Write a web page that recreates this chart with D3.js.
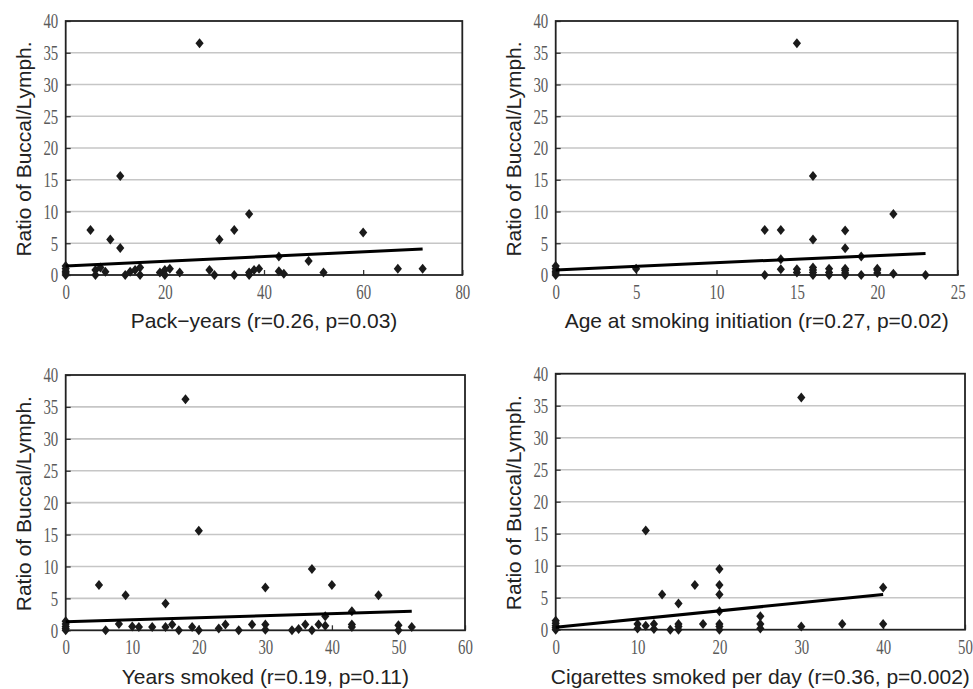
<!DOCTYPE html>
<html>
<head>
<meta charset="utf-8">
<script src="https://cdn.jsdelivr.net/npm/d3@7"></script>
<style>
  html, body { margin: 0; padding: 0; background: #fff; }
  svg { display: block; }
</style>
</head>
<body>
<script>
// ---------------- DATA ----------------
const yTicks = [0, 5, 10, 15, 20, 25, 30, 35, 40];
const yLabel = "Ratio of Buccal/Lymph.";

const titles = [
  "Pack\u2212years (r=0.26, p=0.03)",
  "Age at smoking initiation (r=0.27, p=0.02)",
  "Years smoked (r=0.19, p=0.11)",
  "Cigarettes smoked per day (r=0.36, p=0.002)"
];

const packTicks  = [0, 20, 40, 60, 80];
const ageTicks   = [0, 5, 10, 15, 20, 25];
const yearsTicks = [0, 10, 20, 30, 40, 50, 60];
const cigTicks   = [0, 10, 20, 30, 40, 50];

const packX = [0,0,0,0,0, 5, 6,6,7,8, 9, 11,11, 12,13,14,15,15, 19,20,20,21, 23, 27, 29,30, 31, 34,34, 37,37,37,38,39, 43,43,44, 49, 52, 60, 67, 72];
const packY = [0,0.3,0.6,1.0,1.4, 7.1, 0,0.8,1.2,0.5, 5.6, 15.6,4.25, 0,0.5,0.8,1.2,0, 0.4,0.8,0,1.0, 0.4, 36.5, 0.8,0, 5.6, 7.1,0, 9.6,0,0.4,0.8,1.0, 2.9,0.6,0.2, 2.2, 0.4, 6.7, 1.0, 1.0];

const ageX = [0,0,0,0,0, 5, 13,13, 14,14,14, 15,15,15, 16,16,16,16,16,16, 17,17,17, 18,18,18,18,18,18, 19,19, 20,20,20, 21,21, 23];
const ageY = [0,0.3,0.6,1.0,1.4, 1.0, 7.1,0, 7.1,2.5,0.9, 36.5,0.9,0.4, 15.6,5.6,0,0.4,0.8,1.2, 0,0.4,1.0, 7.0,4.2,0,0.3,0.7,1.0, 2.9,0, 0.3,0.8,1.0, 9.6,0.2, 0];

const yearsX = [0,0,0,0,0, 5, 6, 8, 9, 10, 11, 13, 15,15, 16, 17, 18, 19, 20,20, 23, 24, 26, 28, 30,30,30, 34, 35, 36, 37,37, 38, 39,39, 40, 43,43,43, 47, 50,50, 52];
const yearsY = [0,0.3,0.6,1.0,1.4, 7.1, 0, 1.0, 5.5, 0.6, 0.5, 0.5, 4.2,0.5, 0.9, 0, 36.2, 0.5, 15.6,0, 0.3, 0.9, 0, 0.9, 6.7,0.9,0.1, 0, 0.2, 0.9, 9.6,0, 0.9, 2.2,0.7, 7.1, 3.0,0.9,0.5, 5.5, 0.8,0, 0.5];

const cigX = [0,0,0,0,0, 10,10, 11, 11, 12,12, 13, 14, 15,15,15,15, 17, 18, 20,20,20,20,20,20,20, 25,25,25, 30,30, 35, 40,40];
const cigY = [0,0.3,0.6,1.0,1.4, 0.9,0.2, 15.5, 0.6, 0.9,0.1, 5.5, 0, 4.1,0.9,0.5,0, 7.0, 0.9, 9.5,7.0,5.5,2.9,0.9,0.5,0, 2.1,0.9,0.2, 36.3,0.5, 0.9, 6.6,0.9];

// regression lines (start / end)
const packTrendX  = [0, 72],  packTrendY  = [1.4, 4.1];
const ageTrendX   = [0, 23],  ageTrendY   = [0.8, 3.4];
const yearsTrendX = [0, 52],  yearsTrendY = [1.35, 3.0];
const cigTrendX   = [0, 40],  cigTrendY   = [0.4, 5.5];

// ---------------- LAYOUT ----------------
const W = 973, H = 689;
const panels = [
  { xs: packX,  ys: packY,  ticks: packTicks,  title: titles[0], tx: packTrendX,  ty: packTrendY,  l: 65.7,  r: 462.3, t: 21,    b: 275,   ylx: 23,  titleY: 328 },
  { xs: ageX,   ys: ageY,   ticks: ageTicks,   title: titles[1], tx: ageTrendX,   ty: ageTrendY,   l: 555.7, r: 957.7, t: 21,    b: 275,   ylx: 513, titleY: 328 },
  { xs: yearsX, ys: yearsY, ticks: yearsTicks, title: titles[2], tx: yearsTrendX, ty: yearsTrendY, l: 65.7,  r: 465,   t: 375,   b: 630.3, ylx: 23,  titleY: 684 },
  { xs: cigX,   ys: cigY,   ticks: cigTicks,   title: titles[3], tx: cigTrendX,   ty: cigTrendY,   l: 555.7, r: 965,   t: 373.7, b: 629.7, ylx: 513, titleY: 684 }
];

const svg = d3.select("body").append("svg")
  .attr("width", W).attr("height", H)
  .style("background", "#fff");

// diamond marker
const diamond = {
  draw(ctx, size) {
    const hw = 4.1, hh = 5.0;
    ctx.moveTo(0, -hh); ctx.lineTo(hw, 0); ctx.lineTo(0, hh); ctx.lineTo(-hw, 0); ctx.closePath();
  }
};
const sym = d3.symbol().type(diamond).size(1)();

const SX = 0.78, SY = 1.12; // squeeze of tick numerals
const tickFont = "'Liberation Serif', 'DejaVu Serif', serif";
const sansFont = "'Liberation Sans', Arial, 'DejaVu Sans', sans-serif";

panels.forEach(p => {
  const xMax = p.ticks[p.ticks.length - 1];
  const x = d3.scaleLinear().domain([0, xMax]).range([p.l, p.r]);
  const y = d3.scaleLinear().domain([0, 40]).range([p.b, p.t]);
  const g = svg.append("g");

  // gridlines
  g.selectAll("line.grid").data(yTicks.filter(v => v > 0 && v < 40)).join("line")
    .attr("class", "grid")
    .attr("x1", p.l).attr("x2", p.r)
    .attr("y1", d => y(d)).attr("y2", d => y(d))
    .attr("stroke", "#c6c6c6").attr("stroke-width", 1.6);

  // y axis
  const ya = g.append("g").attr("transform", `translate(${p.l},0)`)
    .call(d3.axisLeft(y).tickValues(yTicks).tickSize(-5).tickPadding(7.5).tickFormat(d3.format("d")));
  ya.select(".domain").remove();
  ya.selectAll(".tick line").attr("stroke", "#333").attr("stroke-width", 1.3);
  ya.selectAll(".tick text")
    .attr("x", -7.5 / SX)
    .attr("transform", `scale(${SX},${SY})`)
    .attr("fill", "#5a5a5a").style("font-family", tickFont).style("font-size", "19px");

  // x axis
  const xa = g.append("g").attr("transform", `translate(0,${p.b})`)
    .call(d3.axisBottom(x).tickValues(p.ticks).tickSize(-5).tickPadding(10).tickFormat(d3.format("d")));
  xa.select(".domain").remove();
  xa.selectAll(".tick line").attr("stroke", "#333").attr("stroke-width", 1.3);
  xa.selectAll(".tick text")
    .attr("y", 9 / SY)
    .attr("transform", `scale(${SX},${SY})`)
    .attr("fill", "#5a5a5a").style("font-family", tickFont).style("font-size", "19px");

  // frame
  g.append("rect")
    .attr("x", p.l).attr("y", p.t)
    .attr("width", p.r - p.l).attr("height", p.b - p.t)
    .attr("fill", "none").attr("stroke", "#222").attr("stroke-width", 1.8);

  // points
  const pts = p.xs.map((v, i) => [v, p.ys[i]]);
  g.selectAll("path.pt").data(pts).join("path")
    .attr("class", "pt")
    .attr("d", sym)
    .attr("transform", d => `translate(${x(d[0])},${y(d[1])})`)
    .attr("fill", "#1a1a1a");

  // trend line
  const line = d3.line().x(d => x(d[0])).y(d => y(d[1]));
  g.append("path")
    .datum(p.tx.map((v, i) => [v, p.ty[i]]))
    .attr("d", line)
    .attr("fill", "none").attr("stroke", "#000").attr("stroke-width", 3);

  // axis titles
  g.append("text")
    .attr("x", (p.l + p.r) / 2).attr("y", p.titleY)
    .attr("text-anchor", "middle")
    .style("font-family", sansFont).style("font-size", "21px").attr("fill", "#222")
    .text(p.title);

  g.append("text")
    .attr("transform", `translate(${p.ylx},${(p.t + p.b) / 2 + 1}) rotate(-90)`)
    .attr("text-anchor", "middle").attr("dominant-baseline", "central")
    .style("font-family", sansFont).style("font-size", "21px").attr("fill", "#222")
    .text(yLabel);
});
</script>
</body>
</html>
